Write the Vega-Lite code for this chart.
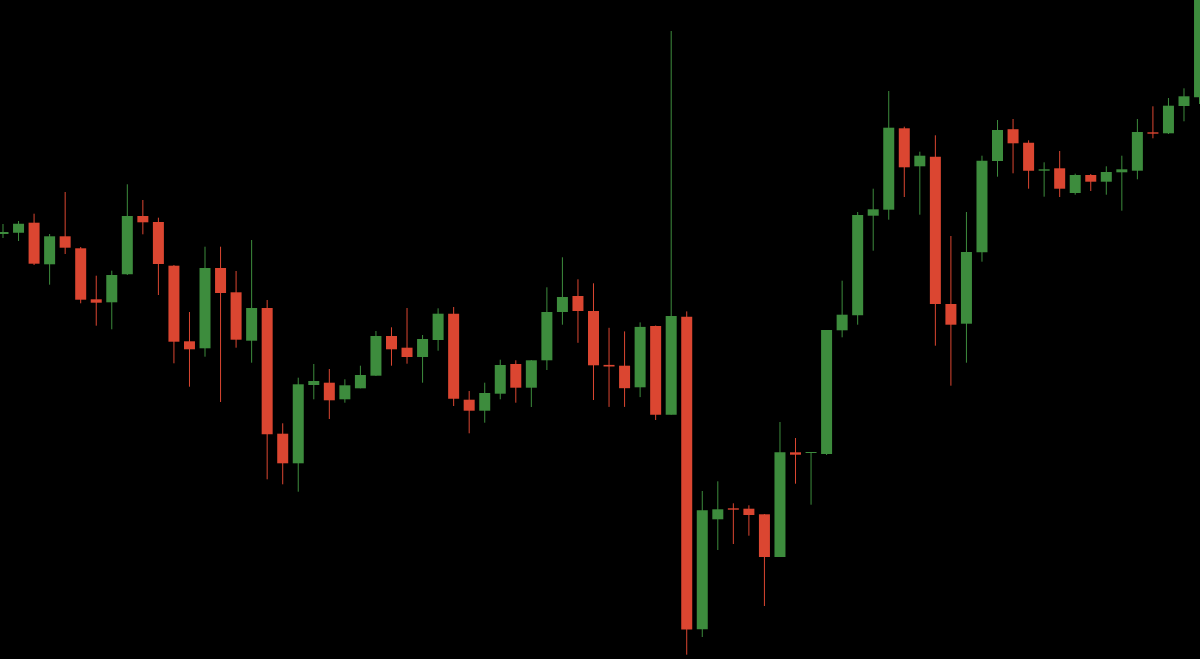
{
  "$schema": "https://vega.github.io/schema/vega-lite/v6.json",
  "width": 1200,
  "height": 659,
  "autosize": {"type": "fit", "contains": "padding"},
  "padding": 0,
  "background": "#000000",
  "config": {"view": {"stroke": null}},
  "data": {"values": [
    {"i":1,"o":425,"h":435,"l":421,"c":427},
    {"i":2,"o":426.3,"h":438,"l":418,"c":435.3},
    {"i":3,"o":436.3,"h":445.3,"l":394,"c":395.3},
    {"i":4,"o":394.7,"h":425,"l":374.3,"c":422.7},
    {"i":5,"o":422.7,"h":467,"l":405,"c":411.3},
    {"i":6,"o":410.7,"h":412,"l":355.7,"c":359.3},
    {"i":7,"o":359.7,"h":383.3,"l":333.3,"c":356.3},
    {"i":8,"o":356.7,"h":388.3,"l":329.7,"c":384},
    {"i":9,"o":384.7,"h":474.7,"l":384,"c":443},
    {"i":10,"o":443,"h":459,"l":424.7,"c":436.7},
    {"i":11,"o":437,"h":441.3,"l":364,"c":395},
    {"i":12,"o":393.3,"h":394,"l":295.7,"c":317.3},
    {"i":13,"o":317.7,"h":347,"l":272.3,"c":309.7},
    {"i":14,"o":310.7,"h":412.3,"l":302.3,"c":391},
    {"i":15,"o":391,"h":412.3,"l":257,"c":366},
    {"i":16,"o":366.7,"h":388,"l":311.3,"c":319.3},
    {"i":17,"o":318.3,"h":419,"l":296.3,"c":351},
    {"i":18,"o":351,"h":359,"l":179.7,"c":224.7},
    {"i":19,"o":225.3,"h":235.7,"l":174.7,"c":195.7},
    {"i":20,"o":195.7,"h":281.3,"l":167.3,"c":274.7},
    {"i":21,"o":274,"h":295,"l":259.7,"c":278},
    {"i":22,"o":276.3,"h":290,"l":240,"c":258.7},
    {"i":23,"o":259.7,"h":279.7,"l":256.3,"c":273.7},
    {"i":24,"o":270.7,"h":293.3,"l":270.7,"c":284},
    {"i":25,"o":283.3,"h":328,"l":283,"c":323},
    {"i":26,"o":323,"h":331.7,"l":293.3,"c":309.7},
    {"i":27,"o":311.3,"h":351,"l":295.3,"c":302},
    {"i":28,"o":302,"h":324,"l":276.3,"c":320},
    {"i":29,"o":319,"h":350.7,"l":308.3,"c":345.3},
    {"i":30,"o":345.3,"h":352,"l":253,"c":260.3},
    {"i":31,"o":259.3,"h":268,"l":225.7,"c":248.3},
    {"i":32,"o":248.3,"h":276.3,"l":236.3,"c":266},
    {"i":33,"o":265.3,"h":299.3,"l":259.7,"c":294},
    {"i":34,"o":295,"h":298.7,"l":256.3,"c":271.3},
    {"i":35,"o":271.3,"h":299,"l":252,"c":298.7},
    {"i":36,"o":298.7,"h":371.7,"l":289,"c":347},
    {"i":37,"o":347,"h":401.7,"l":334.3,"c":362},
    {"i":38,"o":363,"h":379.7,"l":316.2,"c":348},
    {"i":39,"o":348,"h":375.7,"l":259,"c":293.7},
    {"i":40,"o":294.1,"h":331.2,"l":252.1,"c":292.5},
    {"i":41,"o":293.3,"h":327.6,"l":252.1,"c":270.8},
    {"i":42,"o":271.7,"h":336.6,"l":261.9,"c":332.1},
    {"i":43,"o":332.9,"h":333.5,"l":239,"c":244.3},
    {"i":44,"o":244.3,"h":628,"l":244.3,"c":343.1},
    {"i":45,"o":342.3,"h":347.6,"l":4.3,"c":29.6},
    {"i":46,"o":29.8,"h":168,"l":22,"c":148.7},
    {"i":47,"o":139.7,"h":177.7,"l":109,"c":149.7},
    {"i":48,"o":150.7,"h":155.7,"l":115,"c":149.3},
    {"i":49,"o":150.3,"h":153.7,"l":123.3,"c":144},
    {"i":50,"o":144.7,"h":145,"l":53,"c":102},
    {"i":51,"o":102,"h":237,"l":102,"c":206.7},
    {"i":52,"o":206.7,"h":221,"l":175.3,"c":204.3},
    {"i":53,"o":206,"h":207,"l":154.3,"c":207},
    {"i":54,"o":205,"h":329,"l":204,"c":329},
    {"i":55,"o":328.7,"h":378.3,"l":321.7,"c":344.3},
    {"i":56,"o":343.7,"h":447,"l":334.3,"c":444},
    {"i":57,"o":443.3,"h":470.3,"l":408.3,"c":449.7},
    {"i":58,"o":449.3,"h":568,"l":439.3,"c":531.3},
    {"i":59,"o":530.7,"h":532.3,"l":462,"c":491.7},
    {"i":60,"o":492.7,"h":507.3,"l":444.3,"c":503.3},
    {"i":61,"o":502.3,"h":523.7,"l":313.3,"c":355},
    {"i":62,"o":355,"h":423,"l":273.3,"c":334.3},
    {"i":63,"o":335.3,"h":447,"l":296.3,"c":407},
    {"i":64,"o":406.7,"h":503.3,"l":397.3,"c":498.3},
    {"i":65,"o":498,"h":539,"l":482.3,"c":529},
    {"i":66,"o":529.8,"h":540,"l":485.7,"c":515.7},
    {"i":67,"o":516.3,"h":518.7,"l":470.3,"c":488.3},
    {"i":68,"o":488.3,"h":496.7,"l":462.3,"c":489.7},
    {"i":69,"o":490.7,"h":508,"l":462,"c":470.3},
    {"i":70,"o":466,"h":485.3,"l":464.3,"c":484},
    {"i":71,"o":484,"h":485,"l":468,"c":477.3},
    {"i":72,"o":477.3,"h":492.7,"l":464.3,"c":487},
    {"i":73,"o":486.7,"h":503.3,"l":448.3,"c":489.7},
    {"i":74,"o":488.3,"h":540,"l":479.7,"c":527},
    {"i":75,"o":526.7,"h":552.7,"l":520.7,"c":525.3},
    {"i":76,"o":525.7,"h":561,"l":525,"c":553.3},
    {"i":77,"o":553,"h":570.7,"l":537.7,"c":562.7},
    {"i":78,"o":561.7,"h":680,"l":555,"c":665}
  ]},
  "encoding": {
    "x": {"field": "i", "type": "quantitative", "scale": {"domain": [0.807, 78.03], "nice": false, "zero": false, "padding": 0}, "axis": null},
    "color": {"condition": {"test": "datum.c >= datum.o", "value": "#3d8c3d"}, "value": "#db4631"}
  },
  "layer": [
    {
      "mark": {"type": "rule", "strokeWidth": 1, "clip": true},
      "encoding": {
        "y": {"field": "l", "type": "quantitative", "scale": {"domain": [0, 659], "nice": false, "zero": false, "padding": 0}, "axis": null},
        "y2": {"field": "h"}
      }
    },
    {
      "mark": {"type": "bar", "width": 11, "clip": true},
      "encoding": {
        "y": {"field": "o", "type": "quantitative", "scale": {"domain": [0, 659], "nice": false, "zero": false, "padding": 0}, "axis": null},
        "y2": {"field": "c"}
      }
    }
  ]
}
